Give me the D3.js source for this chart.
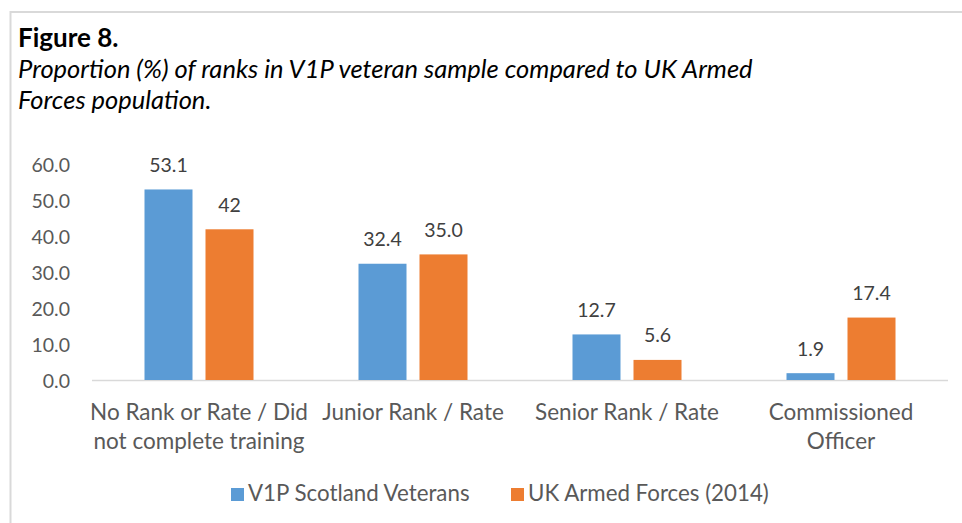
<!DOCTYPE html>
<html><head><meta charset="utf-8">
<script src="https://cdn.jsdelivr.net/npm/d3@7"></script>
<style>body{margin:0;background:#fff;}svg{display:block;}</style>
</head><body><svg id="c" width="962" height="523"></svg>
<script>
const categories = [["No Rank or Rate / Did","not complete training"],["Junior Rank / Rate"],["Senior Rank / Rate"],["Commissioned","Officer"]];
const v1p = [53.1, 32.4, 12.7, 1.9];
const ukaf = [42, 35.0, 5.6, 17.4];
const v1pLabels = ["53.1","32.4","12.7","1.9"];
const ukafLabels = ["42","35.0","5.6","17.4"];
const seriesNames = ["V1P Scotland Veterans","UK Armed Forces (2014)"];
const colors = ["#5b9bd5","#ed7d31"];
const yTicks = [0,10,20,30,40,50,60];

const font = "Lato, 'Open Sans', sans-serif";
const svg = d3.select("#c");
// frame
svg.append("path").attr("d","M10.5,523 V12 H962").attr("fill","none").attr("stroke","#d9d9d9").attr("stroke-width",2);

svg.append("text").attr("x",18).attr("y",47).attr("font-family",font).attr("font-weight","bold").attr("font-size",26).attr("fill","#000").text("Figure 8.");
svg.append("text").attr("x",18).attr("y",78).attr("font-family",font).attr("font-style","italic").attr("font-size",25.5).attr("fill","#000").text("Proportion (%) of ranks in V1P veteran sample compared to UK Armed");
svg.append("text").attr("x",18).attr("y",109).attr("font-family",font).attr("font-style","italic").attr("font-size",25.5).attr("fill","#000").text("Forces population.");

const x = d3.scaleBand().domain(d3.range(categories.length)).range([92,948]);
const y = d3.scaleLinear().domain([0,60]).range([380,164.7]);
const barW = 48, gap = 13;

// y axis labels
const ya = svg.append("g").attr("transform","translate(70,0)").call(d3.axisLeft(y).tickValues(yTicks).tickFormat(d3.format(".1f")).tickSize(0).tickPadding(0));
ya.select(".domain").remove();
ya.selectAll("text").attr("font-family",font).attr("font-size",19.5).attr("fill","#595959").attr("dy","0.36em");

// baseline
svg.append("line").attr("x1",92).attr("x2",948).attr("y1",380.5).attr("y2",380.5).attr("stroke","#d9d9d9").attr("stroke-width",1.5);

const series = [v1p, ukaf];
const labels = [v1pLabels, ukafLabels];
series.forEach((vals,s)=>{
  const g = svg.append("g");
  vals.forEach((v,i)=>{
    const cx = x(i)+x.bandwidth()/2;
    const bx = s===0 ? cx - gap/2 - barW : cx + gap/2;
    g.append("rect").attr("x",bx).attr("y",y(v)).attr("width",barW).attr("height",y(0)-y(v)).attr("fill",colors[s]);
    g.append("text").attr("x",bx+barW/2).attr("y",y(v)-17.5).attr("text-anchor","middle").attr("font-family",font).attr("font-size",19.5).attr("fill","#404040").text(labels[s][i]);
  });
});

// category labels
categories.forEach((lines,i)=>{
  const cx = x(i)+x.bandwidth()/2;
  lines.forEach((t,j)=>{
    svg.append("text").attr("x",cx).attr("y",420+j*28.5).attr("text-anchor","middle").attr("font-family",font).attr("font-size",22.5).attr("fill","#595959").text(t);
  });
});

// legend
const legX = [231, 511];
seriesNames.forEach((n,s)=>{
  svg.append("rect").attr("x",legX[s]).attr("y",488).attr("width",13).attr("height",13).attr("fill",colors[s]);
  svg.append("text").attr("x",legX[s]+17).attr("y",501).attr("font-family",font).attr("font-size",22.3).attr("fill","#595959").text(n);
});
</script></body></html>
